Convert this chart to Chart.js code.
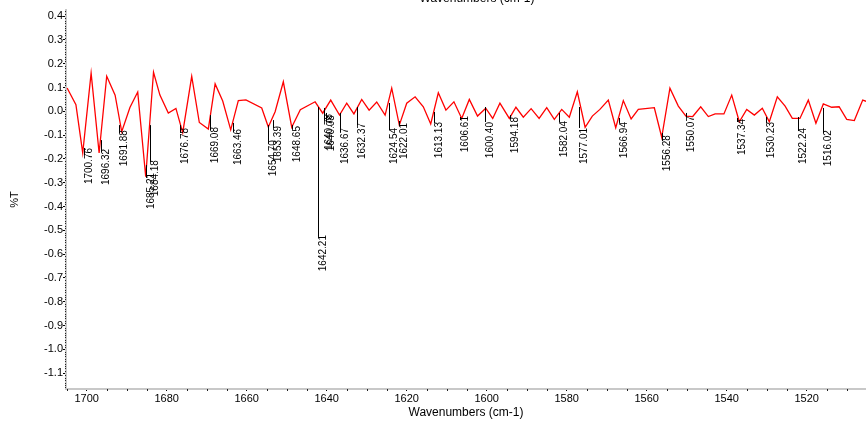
<!DOCTYPE html>
<html>
<head>
<meta charset="utf-8">
<script src="https://cdn.jsdelivr.net/npm/chart.js@4.4.1/dist/chart.umd.min.js"></script>
<style>
  html, body { margin: 0; padding: 0; background: #fff; }
</style>
</head>
<body>
<canvas id="spectrum" width="866" height="421"></canvas>
<script>
// spectrum vertices (cm-1, %T)
const wavenumbers = [
  1704.9, 1702.7, 1701.0, 1698.9, 1696.9, 1695.0, 1692.9, 1691.25, 1689.2, 1687.25,
  1685.25, 1683.3, 1681.7, 1679.6, 1677.7, 1676.0, 1673.75, 1671.85, 1669.6, 1667.9,
  1666.0, 1664.0, 1662.1, 1660.2, 1656.25, 1654.6, 1652.9, 1650.85, 1648.75, 1646.6,
  1642.9, 1641.0, 1639.0, 1636.8, 1635.0, 1633.2, 1631.25, 1629.4, 1627.5, 1625.4,
  1623.75, 1621.85, 1620.0, 1617.9, 1615.85, 1614.0, 1612.1, 1610.2, 1608.2, 1606.25,
  1604.35, 1602.3, 1600.25, 1598.5, 1596.7, 1594.35, 1592.7, 1590.85, 1588.9, 1586.9,
  1585.0, 1583.1, 1581.25, 1579.35, 1577.35, 1575.4, 1573.6, 1571.7, 1569.6, 1567.75,
  1565.85, 1563.9, 1562.1, 1558.1, 1556.25, 1554.2, 1552.1, 1550.2, 1548.5, 1546.5,
  1544.6, 1542.9, 1540.7, 1538.75, 1536.85, 1535.0, 1533.1, 1531.1, 1529.35, 1527.35,
  1525.4, 1523.6, 1521.7, 1519.6, 1517.7, 1515.85, 1513.75, 1511.9, 1510.0, 1508.1,
  1506.0, 1504.5
];
const transmittance = [
  0.098, 0.028, -0.175, 0.160, -0.175, 0.147, 0.068, -0.086, 0.016, 0.081,
  -0.275, 0.164, 0.068, -0.007, 0.012, -0.090, 0.147, -0.047, -0.075, 0.115,
  0.043, -0.078, 0.045, 0.048, 0.014, -0.066, -0.002, 0.124, -0.067, 0.007,
  0.040, -0.008, 0.047, -0.016, 0.034, -0.011, 0.050, 0.005, 0.039, -0.016,
  0.097, -0.058, 0.034, 0.061, 0.019, -0.053, 0.078, 0.005, 0.040, -0.030,
  0.050, -0.020, 0.013, -0.030, 0.034, -0.030, 0.017, -0.025, 0.011, -0.030,
  0.015, -0.034, 0.008, -0.025, 0.082, -0.067, -0.020, 0.008, 0.047, -0.069,
  0.045, -0.032, 0.008, 0.015, -0.109, 0.097, 0.022, -0.020, -0.022, 0.019,
  -0.022, -0.011, -0.011, 0.068, -0.044, 0.008, -0.016, 0.013, -0.044, 0.061,
  0.022, -0.030, -0.030, 0.047, -0.050, 0.031, 0.017, 0.019, -0.034, -0.039,
  0.047, 0.038
];

// peak picks: position, leader line top/end and where the rotated label starts (all in %T)
const peakPositions = [
  1700.76, 1696.32, 1691.88, 1685.21, 1684.18, 1676.78, 1669.08, 1663.46, 1654.70, 1653.39,
  1648.65, 1642.21, 1640.78, 1640.08, 1636.67, 1632.37, 1624.54, 1622.01, 1613.13, 1606.61,
  1600.40, 1594.18, 1582.04, 1577.01, 1566.94, 1556.28, 1550.07, 1537.34, 1530.23, 1522.24,
  1516.02
];
const peakLineTop = [
  -0.154, -0.121, -0.058, -0.226, -0.058, -0.058, -0.016, -0.049, -0.058, -0.037,
  -0.058, 0.018, 0.014, -0.007, -0.007, 0.018, 0.035, -0.041, -0.003, -0.024,
  0.018, -0.016, -0.007, 0.018, -0.028, -0.091, -0.007, -0.028, -0.024, -0.024,
  0.014
];
const peakLineEnd = [
  -0.184, -0.171, -0.091, -0.280, -0.213, -0.091, -0.079, -0.087, -0.137, -0.070,
  -0.074, -0.528, -0.037, -0.045, -0.087, -0.058, -0.079, -0.058, -0.049, -0.037,
  -0.045, -0.032, -0.045, -0.070, -0.049, -0.125, -0.024, -0.045, -0.049, -0.083,
  -0.091
];
const peakTextTop = [
  -0.154, -0.158, -0.079, -0.259, -0.205, -0.070, -0.066, -0.074, -0.121, -0.062,
  -0.062, -0.520, -0.011, -0.016, -0.070, -0.049, -0.070, -0.049, -0.045, -0.020,
  -0.045, -0.024, -0.041, -0.070, -0.045, -0.100, -0.020, -0.032, -0.045, -0.070,
  -0.079
];

const xTickValues = [1700, 1680, 1660, 1640, 1620, 1600, 1580, 1560, 1540, 1520];
const yTickValues = [0.4, 0.3, 0.2, 0.1, 0.0, -0.1, -0.2, -0.3, -0.4, -0.5, -0.6, -0.7, -0.8, -0.9, -1.0, -1.1];

const X_MIN = 1505.18, X_MAX = 1705.18;
const Y_MIN = -1.1668, Y_MAX = 0.4256;

const FONT = '"Liberation Sans", Arial, sans-serif';
Chart.defaults.font.family = FONT;
Chart.defaults.color = "#000";

const peakMarkers = {
  id: "peakMarkers",
  afterDatasetsDraw(chart) {
    const { ctx, scales: { x, y } } = chart;
    ctx.save();
    ctx.strokeStyle = "#000";
    ctx.fillStyle = "#000";
    ctx.lineWidth = 1;
    ctx.font = "10px " + FONT;
    peakPositions.forEach((wn, i) => {
      const px = Math.round(x.getPixelForValue(wn)) + 0.5;
      ctx.beginPath();
      ctx.moveTo(px, y.getPixelForValue(peakLineTop[i]));
      ctx.lineTo(px, y.getPixelForValue(peakLineEnd[i]));
      ctx.stroke();
      ctx.save();
      ctx.translate(px, y.getPixelForValue(peakTextTop[i]));
      ctx.rotate(-Math.PI / 2);
      ctx.textAlign = "right";
      ctx.textBaseline = "top";
      ctx.fillText(wn.toFixed(2), 0, 0);
      ctx.restore();
    });
    ctx.restore();
  },
};

const axisExtras = {
  id: "axisExtras",
  afterDraw(chart) {
    const { ctx, chartArea, scales: { x, y } } = chart;
    ctx.save();
    ctx.fillStyle = "#222";
    // minor ticks on the wavenumber axis
    for (let v = 1510; v <= 1705; v += 5) {
      if (v % 20 === 0) continue;
      ctx.fillRect(Math.round(x.getPixelForValue(v)), chartArea.bottom, 1, 2);
    }
    // dotted minor ticks on the %T axis
    for (let k = -116; k <= 42; k++) {
      if (k % 10 === 0) continue;
      ctx.fillRect(chartArea.left - 1, Math.round(y.getPixelForValue(k / 100)), 1, 1);
    }
    // the top title is cut off in the original
    ctx.fillStyle = "#000";
    ctx.font = "12px " + FONT;
    ctx.textAlign = "center";
    ctx.textBaseline = "alphabetic";
    ctx.fillText("Wavenumbers (cm-1)", 477, 2);
    ctx.restore();
  },
};

new Chart(document.getElementById("spectrum"), {
  type: "line",
  data: {
    datasets: [{
      data: wavenumbers.map((wn, i) => ({ x: wn, y: transmittance[i] })),
      borderColor: "#ff0000",
      borderWidth: 1.3,
      pointRadius: 0,
      tension: 0,
      fill: false,
    }],
  },
  options: {
    responsive: false,
    animation: false,
    devicePixelRatio: 1,
    layout: { padding: { top: 10, right: 0, bottom: 0, left: 0 } },
    plugins: { legend: { display: false }, tooltip: { enabled: false } },
    scales: {
      x: {
        type: "linear",
        reverse: true,
        min: X_MIN,
        max: X_MAX,
        afterBuildTicks: s => { s.ticks = xTickValues.map(v => ({ value: v })); },
        afterFit: s => { s.height = 32; },
        grid: { drawOnChartArea: false, tickLength: 2, tickColor: "#000" },
        border: { color: "#c8c8c8", width: 2 },
        ticks: {
          font: { size: 11 },
          padding: 1,
          maxRotation: 0,
          autoSkip: false,
          callback: v => String(v),
        },
        title: {
          display: true,
          text: "Wavenumbers (cm-1)",
          font: { size: 12 },
          padding: { top: 0, bottom: 1 },
        },
      },
      y: {
        min: Y_MIN,
        max: Y_MAX,
        afterBuildTicks: s => { s.ticks = yTickValues.map(v => ({ value: v })); },
        afterFit: s => { s.width = 66; },
        grid: { drawOnChartArea: false, tickLength: 3, tickColor: "#000" },
        border: { color: "#c8c8c8", width: 2 },
        ticks: {
          font: { size: 11 },
          padding: 0,
          autoSkip: false,
          callback: v => (Math.abs(v) < 1e-9 ? "0.0" : v.toFixed(1)),
        },
        title: {
          display: true,
          text: "%T",
          font: { size: 11 },
          padding: { top: 8 },
        },
      },
    },
  },
  plugins: [peakMarkers, axisExtras],
});
</script>
</body>
</html>
